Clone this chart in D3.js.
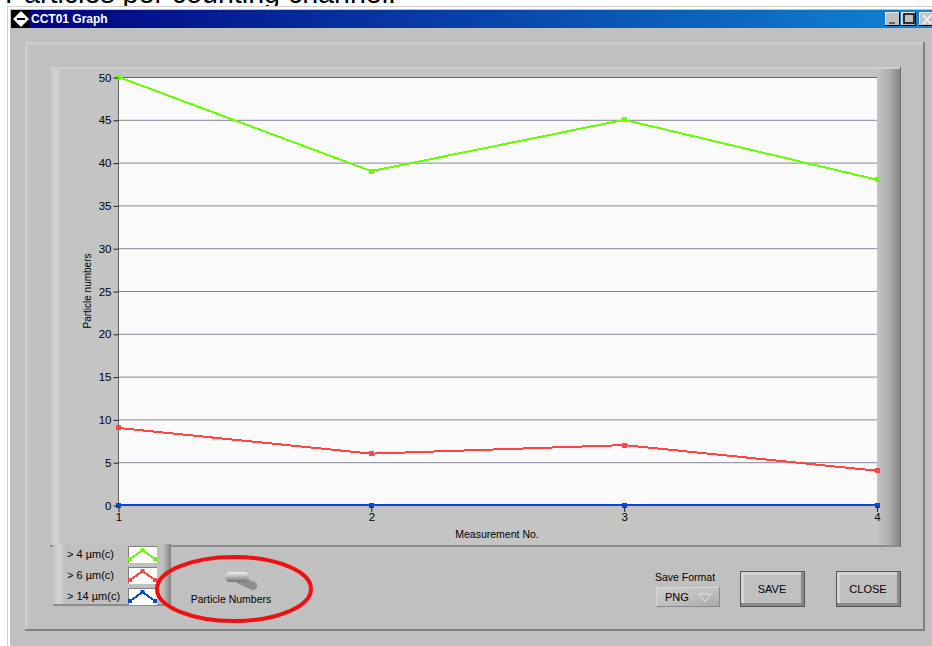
<!DOCTYPE html>
<html>
<head>
<meta charset="utf-8">
<script src="https://cdn.jsdelivr.net/npm/d3@7"></script>
<style>
html, body { margin: 0; padding: 0; background: #fff; overflow: hidden; }
svg { display: block; }
text { font-family: "Liberation Sans", sans-serif; fill: #000; }
</style>
</head>
<body>
<svg width="932" height="646"></svg>
<script>
// chart values
const measurements = [1, 2, 3, 4];
const green4um = [50, 39, 45, 38];
const red6um = [9, 6, 7, 4];
const blue14um = [0, 0, 0, 0];
const yTicks = [0, 5, 10, 15, 20, 25, 30, 35, 40, 45, 50];
const seriesNames = ['> 4 µm(c)', '> 6 µm(c)', '> 14 µm(c)'];
const seriesColors = ['#66ff00', '#ff4444', '#0a47d6'];
const seriesValues = [green4um, red6um, blue14um];

const svg = d3.select('svg');
const defs = svg.append('defs');

function gradient(id, stops, x2, y2) {
  const g = defs.append('linearGradient').attr('id', id)
    .attr('x1', 0).attr('y1', 0).attr('x2', x2).attr('y2', y2);
  stops.forEach((c, i) => g.append('stop')
    .attr('offset', i / (stops.length - 1)).attr('stop-color', c));
}
gradient('title', ['#000080', '#1084d0'], 1, 0);
gradient('frameLeft', ['#c4c4c4', '#d4d4d4', '#c0c0c0'], 1, 0);
gradient('frameRight', ['#c4c4c4', '#b0b0b0', '#808080'], 1, 0);
gradient('legendLeft', ['#c4c4c4', '#d4d4d4', '#c0c0c0'], 1, 0);
gradient('legendRight', ['#c0c0c0', '#808080'], 1, 0);
gradient('btn', ['#cfcfcf', '#c0c0c0', '#a8a8a8'], 1, 1);
gradient('knob', ['#f0f0f0', '#b4b4b4', '#707070'], 0, 1);

function rect(x, y, w, h, fill, parent) {
  return (parent || svg).append('rect')
    .attr('x', x).attr('y', y).attr('width', w).attr('height', h).attr('fill', fill);
}
function label(x, y, s, size, anchor) {
  return svg.append('text').attr('x', x).attr('y', y).text(s)
    .attr('font-size', size).attr('text-anchor', anchor || 'start');
}

// heading cut off by the top of the page and the window
label(5, 3, 'Particles per counting channel:', 28.6);

// window
rect(7, 6, 925, 640, '#d4d0c8');
rect(8, 7, 924, 639, '#ffffff');
rect(10, 9, 922, 637, '#c0c0c0');
rect(11, 10, 921, 18, 'url(#title)');
rect(12, 10, 17, 18, '#000');
svg.append('path').attr('d', 'M21 11 L29 19 L21 27 L13 19 Z').attr('fill', '#fff');
rect(17, 18, 8, 2, '#000');
label(31, 23, 'CCT01 Graph', 12).attr('font-weight', 'bold').style('fill', '#fff');

// title bar buttons
[885, 901, 919].forEach(x => {
  rect(x, 12, 15, 14, '#000');
  rect(x, 12, 14, 13, '#e8e8e8');
  rect(x + 1, 13, 13, 12, '#c0c0c0');
});
rect(889, 22, 6, 2, '#666');
svg.append('rect').attr('x', 904).attr('y', 14).attr('width', 10).attr('height', 9)
  .attr('fill', 'none').attr('stroke', '#000').attr('stroke-width', 1.5);
svg.append('path').attr('d', 'M923 15 L931 24 M931 15 L923 24').attr('stroke', '#eee').attr('stroke-width', 2);

// outer panel
rect(25, 42, 900, 589, '#c0c0c0');
rect(25, 42, 900, 3, '#cccccc');
rect(25, 42, 3, 589, '#cccccc');
rect(25, 629, 900, 2, '#808080');
rect(923, 42, 2, 589, '#808080');

// graph frame
rect(50, 67, 851, 479, '#c4c4c4');
rect(50, 67, 12, 479, 'url(#frameLeft)');
rect(877, 67, 24, 479, 'url(#frameRight)');
rect(50, 67, 851, 2, '#cecece');
rect(50, 545, 851, 2, '#8c8c8c');
rect(900, 67, 1, 480, '#707070');

// plot
const plot = { left: 118.5, right: 877, top: 77, bottom: 505 };
const x = d3.scaleLinear().domain([1, 4]).range([plot.left, plot.right]);
const y = d3.scaleLinear().domain([0, 50]).range([plot.bottom, plot.top]);

rect(plot.left, plot.top, plot.right - plot.left, plot.bottom - plot.top, '#fafafa');

const graf = svg.append('g');

// grid lines
graf.selectAll('.grid').data(yTicks).enter().append('line')
  .attr('x1', plot.left).attr('x2', plot.right)
  .attr('y1', d => y(d) + 0.5).attr('y2', d => y(d) + 0.5)
  .attr('stroke', d => d === 50 ? '#666666' : '#85859a').attr('stroke-width', 1);

// left border of the plot
graf.append('line').attr('x1', plot.left).attr('x2', plot.left)
  .attr('y1', plot.top).attr('y2', plot.bottom)
  .attr('stroke', '#666666');

// axes
const yAxis = svg.append('g').attr('transform', `translate(${plot.left},0.5)`)
  .call(d3.axisLeft(y).tickValues(yTicks).tickSize(5).tickPadding(2));
const xAxis = svg.append('g').attr('transform', `translate(0,${plot.bottom + 2})`)
  .call(d3.axisBottom(x).tickValues(measurements).tickFormat(d3.format('d')).tickSize(5).tickPadding(1));
[yAxis, xAxis].forEach(a => {
  a.select('.domain').remove();
  a.selectAll('text').attr('font-size', 11.5).style('font-family', '"Liberation Sans", sans-serif');
  a.selectAll('line').attr('stroke', '#222');
});

label(0, 0, 'Particle numbers', 10)
  .attr('text-anchor', 'middle')
  .attr('transform', 'translate(91,291) rotate(-90)');
label(497, 538, 'Measurement No.', 10.5, 'middle');

// series
const line = d3.line().x((d, i) => x(measurements[i])).y(d => y(d));
seriesValues.forEach((vals, s) => {
  const g = graf.append('g');
  g.append('path').datum(vals).attr('d', line)
    .attr('fill', 'none').attr('stroke', seriesColors[s]).attr('stroke-width', 2)
    .attr('shape-rendering', 'crispEdges');
  g.selectAll('rect').data(vals).enter().append('rect')
    .attr('x', (d, i) => x(measurements[i]) - 2.5)
    .attr('y', d => y(d) - 2.5)
    .attr('width', 5).attr('height', 5)
    .attr('fill', seriesColors[s])
    .attr('shape-rendering', 'crispEdges');
});

// legend
rect(53, 544, 118, 62, '#c0c0c0');
rect(53, 544, 12, 62, 'url(#legendLeft)');
rect(163, 544, 8, 62, 'url(#legendRight)');
rect(53, 604, 118, 2, '#8c8c8c');
const glyphX = d3.scaleLinear().domain([0, 2]).range([130, 155]);
seriesNames.forEach((name, i) => {
  const top = 546 + i * 21;
  label(67, top + 12, name, 11);
  rect(128, top, 29, 17, '#808080');
  rect(129, top + 1, 28, 16, '#ffffff');
  const glyph = d3.line().x((d, k) => glyphX(k)).y(d => top + d);
  svg.append('path').datum([13, 4, 13]).attr('d', glyph)
    .attr('fill', 'none').attr('stroke', seriesColors[i]).attr('stroke-width', 2)
    .attr('shape-rendering', 'crispEdges');
  svg.selectAll(null).data([13, 4, 13]).enter().append('rect')
    .attr('x', (d, k) => glyphX(k) - 2).attr('y', d => top + d - 2)
    .attr('width', 4).attr('height', 4).attr('fill', seriesColors[i]);
});

// toggle switch
svg.append('line').attr('x1', 240).attr('y1', 580).attr('x2', 253).attr('y2', 586)
  .attr('stroke', '#8e8e8e').attr('stroke-width', 8).attr('stroke-linecap', 'round');
rect(225, 572, 24, 10, 'url(#knob)').attr('rx', 5);
label(231, 603, 'Particle Numbers', 10.5, 'middle');

// red marker ellipse
svg.append('ellipse').attr('cx', 234).attr('cy', 589).attr('rx', 77).attr('ry', 32)
  .attr('fill', 'none').attr('stroke', '#ee1111').attr('stroke-width', 4);

// save controls
label(655, 581, 'Save Format', 10.5);
rect(656, 587, 64, 20, 'url(#btn)');
rect(656, 587, 64, 1, '#d8d8d8');
rect(656, 587, 1, 20, '#d8d8d8');
rect(656, 606, 64, 1, '#8a8a8a');
rect(719, 587, 1, 20, '#8a8a8a');
label(665, 601, 'PNG', 11);
svg.append('path').attr('d', 'M699 594 L711 594 L705 602 Z')
  .attr('fill', 'none').attr('stroke', '#e4e4e4');

[[740, 'SAVE'], [836, 'CLOSE']].forEach(([bx, name]) => {
  rect(bx, 571, 65, 36, '#555555');
  rect(bx + 1, 572, 63, 34, '#c0c0c0');
  rect(bx + 1, 572, 63, 3, '#d6d6d6');
  rect(bx + 1, 572, 3, 34, '#d6d6d6');
  rect(bx + 1, 603, 63, 3, '#8a8a8a');
  rect(bx + 61, 572, 3, 34, '#8a8a8a');
  label(bx + 32, 593, name, 11, 'middle');
});
</script>
</body>
</html>
